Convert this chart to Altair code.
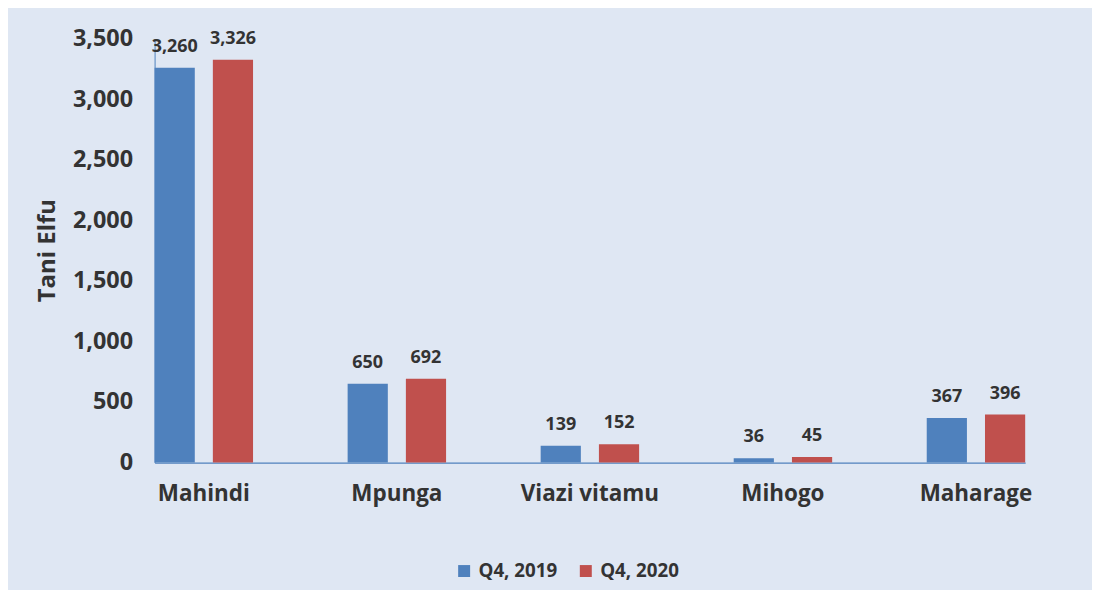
import altair as alt
import pandas as pd

categories = ["Mahindi", "Mpunga", "Viazi vitamu", "Mihogo", "Maharage"]
series = ["Q4, 2019", "Q4, 2020"]
values_2019 = [3260, 650, 139, 36, 367]
values_2020 = [3326, 692, 152, 45, 396]
colors = ["#4f81bd", "#c0504d"]
y_ticks = [0, 500, 1000, 1500, 2000, 2500, 3000, 3500]

rows = []
for c, a, b in zip(categories, values_2019, values_2020):
    rows.append({"crop": c, "series": series[0], "value": a})
    rows.append({"crop": c, "series": series[1], "value": b})
df = pd.DataFrame(rows)

FONT = "Open Sans"
TXT = "#333333"

x = alt.X("crop:N", sort=categories, title=None,
          scale=alt.Scale(paddingInner=0.49, paddingOuter=0),
          axis=alt.Axis(labelAngle=0, labelFont=FONT, labelFontWeight="bold",
                        labelFontSize=22.5, labelColor=TXT, labelPadding=20,
                        ticks=False, domainColor="#4f81bd", domainWidth=1.2))
xo = alt.XOffset("series:N", sort=series,
                 scale=alt.Scale(paddingInner=0.31, paddingOuter=0))
y = alt.Y("value:Q", title="Tani Elfu",
          scale=alt.Scale(domain=[0, 3500], nice=False),
          axis=alt.Axis(values=y_ticks, format=",.0f", grid=False, ticks=False,
                        labelFont=FONT, labelFontWeight="bold", labelFontSize=23.5,
                        labelColor=TXT, labelPadding=22,
                        domainColor="#4f81bd", domainWidth=1,
                        titleFont=FONT, titleFontWeight="bold", titleFontSize=24,
                        titleColor=TXT, titleAngle=-90, titleX=-107, titleY=212,
                        titleAlign="center", titleBaseline="middle"))

color = alt.Color("series:N", sort=series,
                  scale=alt.Scale(domain=series, range=colors),
                  legend=alt.Legend(title=None, orient="none", direction="horizontal",
                                    legendX=301, legendY=524,
                                    symbolType="square", symbolSize=144,
                                    symbolStrokeWidth=0, symbolOpacity=1,
                                    labelFont=FONT, labelFontWeight="bold",
                                    labelFontSize=18.8, labelColor=TXT,
                                    labelOffset=5, columnPadding=19))

base = alt.Chart(df).encode(x=x, xOffset=xo, y=y)

bars = base.mark_bar(opacity=1).encode(color=color)
labels = base.mark_text(font=FONT, fontWeight="bold", fontSize=18, color=TXT,
                        baseline="middle", dy=-21).encode(
    text=alt.Text("value:Q", format=",.0f"))

chart = (bars + labels).properties(
    width=873, height=425,
    background="#dfe7f3",
    padding={"left": 147, "top": 30, "right": 67, "bottom": 127},
    autosize=alt.AutoSizeParams(type="none"),
).configure_view(stroke=None)

chart.save("out.html", embed_options={"renderer": "svg", "actions": False})
